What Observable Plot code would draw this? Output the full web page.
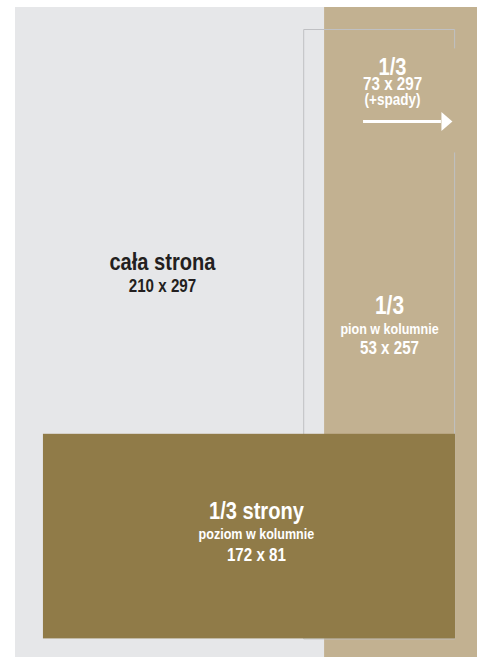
<!DOCTYPE html>
<html><head><meta charset="utf-8">
<script src="https://cdn.jsdelivr.net/npm/d3@7"></script>
<script src="https://cdn.jsdelivr.net/npm/@observablehq/plot@0.6"></script>
<style>body{margin:0;background:#fff}#chart svg{display:block}</style>
</head><body><div id="chart"></div>
<script>
// Ad format layout on a 210 x 297 mm page (values in mm)
const rectIds = ["strona", "spad", "poziom"];
const rectX1 = [0, 140.5, 12.7];
const rectX2 = [210, 210, 200];
const rectY1 = [0, 0, 194];
const rectY2 = [297, 297, 287];
const rectColors = ["#e6e7e9", "#c2b191", "#907b48"];

// outline of the "pion w kolumnie" format (segments, mm)
const segX1 = [131, 131, 131, 199.6, 199.6];
const segY1 = [10, 10, 287, 10, 65.9];
const segX2 = [199.6, 131, 199.6, 199.6, 199.6];
const segY2 = [10, 287, 287, 18.6, 287];

// bleed arrow
const arrowStart = 158.2, arrowBase = 193.6, arrowTip = 198.6, arrowY = 51.8;

// labels
const labelText = ["1/3", "73 x 297", "(+spady)", "1/3", "pion w kolumnie", "53 x 257", "cała strona", "210 x 297", "1/3 strony", "poziom w kolumnie", "172 x 81"];
const labelX = [171.4, 171.4, 171.4, 170, 170, 170, 66.8, 66.8, 109.5, 109.5, 109.5];
const labelY = [30.5, 37.7, 44.1, 139.1, 148.2, 157.3, 119.1, 129.1, 232.3, 241.8, 251.4];
const labelRole = ["title", "dim", "note", "title2", "sub", "dim", "title", "dim", "title", "sub", "dim"];
const labelOn = ["spad", "spad", "spad", "spad", "spad", "spad", "strona", "strona", "poziom", "poziom", "poziom"];

const roleSize = {title: 24.5, title2: 25.5, dim: 18.5, sub: 15.3, note: 16.5};
const textColor = {strona: "#231f20", spad: "#ffffff", poziom: "#ffffff"};

const rects = rectIds.map((id, i) => ({id, x1: rectX1[i], x2: rectX2[i], y1: rectY1[i], y2: rectY2[i]}));
const segs = segX1.map((_, i) => ({x1: segX1[i], y1: segY1[i], x2: segX2[i], y2: segY2[i]}));
const labels = labelText.map((t, i) => ({t, x: labelX[i], y: labelY[i], size: roleSize[labelRole[i]], color: textColor[labelOn[i]]}));

const arrowHead = {
  draw(ctx, size) {
    const r = Math.sqrt(size / Math.PI);
    ctx.moveTo(0, 0);
    ctx.lineTo(-1.1 * r, -0.95 * r);
    ctx.lineTo(-1.1 * r, 0.95 * r);
    ctx.closePath();
  }
};

const fontFamily = "'Liberation Sans', Arial, sans-serif";
const narrow = 0.82; // condensed face imitation

const chart = Plot.plot({
  width: 482,
  height: 657,
  margin: 0,
  style: {background: "#ffffff"},
  x: {domain: [0, 210], range: [15, 477], axis: null},
  y: {domain: [0, 297], range: [7, 660.4], axis: null},
  color: {domain: rectIds, range: rectColors},
  marks: [
    Plot.rect(rects.slice(0, 2), {x1: "x1", x2: "x2", y1: "y1", y2: "y2", fill: "id"}),
    Plot.link(segs, {x1: "x1", y1: "y1", x2: "x2", y2: "y2", stroke: "#bfc0c3", strokeWidth: 1}),
    Plot.rect(rects.slice(2), {x1: "x1", x2: "x2", y1: "y1", y2: "y2", fill: "id"}),
    Plot.ruleY([arrowY], {x1: arrowStart, x2: arrowBase, stroke: "#ffffff", strokeWidth: 3}),
    Plot.dot([arrowY], {x: arrowTip, y: d => d, r: 10, symbol: arrowHead, fill: "#ffffff", stroke: "none"}),
    ...["#231f20", "#ffffff"].map(c => Plot.text(labels.filter(d => d.color === c), {
      x: "x", y: "y", text: "t", fontSize: "size", fill: c,
      fontFamily, fontWeight: "bold", textAnchor: "middle", lineAnchor: "bottom"
    }))
  ]
});
d3.select(chart).selectAll("text").each(function () {
  const t = this.getAttribute("transform") || "";
  this.setAttribute("transform", t + ` scale(${narrow},1)`);
});
document.getElementById("chart").append(chart);
</script>
</body></html>
